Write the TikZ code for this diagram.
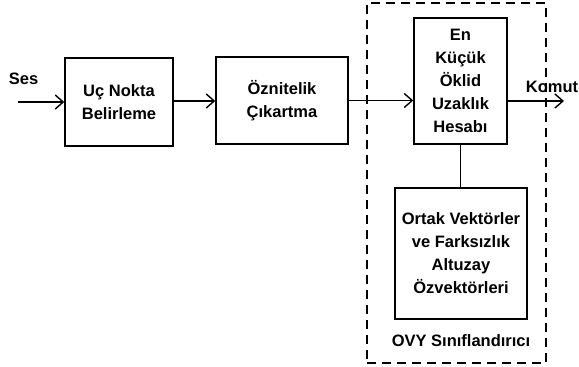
\documentclass[tikz,border=0pt]{standalone}
\usepackage{fontspec}
\setmainfont{Liberation Sans}
\usetikzlibrary{arrows.meta,calc}
\begin{document}
\begin{tikzpicture}[x=1pt,y=-1pt,
  blockbox/.style={draw,line width=1.4pt,align=center,inner sep=0pt,
    font=\fontsize{16.5}{23}\selectfont\bfseries},
  lbl/.style={font=\fontsize{16.5}{23}\selectfont\bfseries,inner sep=0pt},
  conn/.style={line width=1.4pt,-{Straight Barb[length=8pt,width=14pt,line width=1.4pt]}},
  plain/.style={line width=1.4pt},
  dashbox/.style={draw,line width=1.4pt,dash pattern=on 9pt off 6pt,inner sep=0pt}]
\useasboundingbox (0,0) rectangle (579,367);
\node[dashbox,minimum width=179pt,minimum height=360pt] (ovy) at (456.5,183) {};
\node[blockbox,minimum width=108pt,minimum height=88pt] (b1) at (119,102) {Uç Nokta\\Belirleme};
\node[blockbox,minimum width=132pt,minimum height=87pt] (b2) at (282,100.5) {Öznitelik\\Çıkartma};
\node[blockbox,minimum width=93pt,minimum height=126pt] (b3) at (460.5,81) {En\\Küçük\\Öklid\\Uzaklık\\Hesabı};
\node[blockbox,minimum width=132pt,minimum height=131pt] (b4) at (461,253.5) {Ortak Vektörler\\ve Farksızlık\\Altuzay\\Özvektörleri};
\node[lbl] (ses) at (23.5,79) {Ses};
\node[lbl] (komut) at (552,86.5) {Komut};
\node[lbl] (ovylbl) at (461,341) {OVY Sınıflandırıcı};
\coordinate (sesin) at (18,102);
\coordinate (komutout) at (564,101);
\draw[conn] (sesin) -- (sesin -| b1.west);
\draw[conn] ($(b1.east)+(0,-1)$) -- ($(b1.east -| b2.west)+(0,-1)$);
\draw[conn] (b2.east) -- (b2.east -| b3.west);
\draw[conn] (komutout -| b3.east) -- (komutout);
\draw[plain] (b3.south) -- (b3.south |- b4.north);
\end{tikzpicture}
\end{document}
